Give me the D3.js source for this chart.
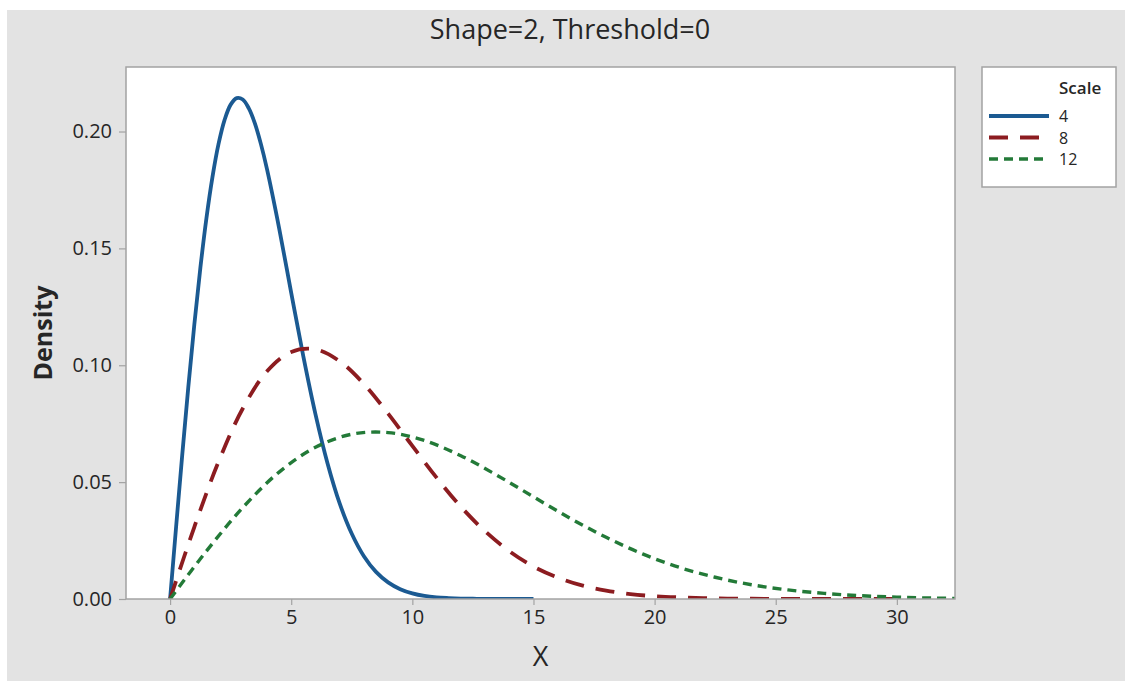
<!DOCTYPE html>
<html><head><meta charset="utf-8">
<script src="https://cdn.jsdelivr.net/npm/d3@7/dist/d3.min.js"></script>
<style>body{margin:0;background:#fff}text{font-family:"Open Sans","Noto Sans",sans-serif;fill:#262626}</style>
</head><body><svg id="c" width="1125" height="681"></svg>
<script>
const titleText = "Shape=2, Threshold=0";
const xLabel = "X";
const yLabel = "Density";
const xTicks = [0, 5, 10, 15, 20, 25, 30];
const yTicks = [0, 0.05, 0.10, 0.15, 0.20];
const legendTitle = "Scale";
const seriesNames = ["4", "8", "12"];

const x4 = [0,0.25,0.5,0.75,1,1.25,1.5,1.75,2,2.25,2.5,2.75,3,3.25,3.5,3.75,4,4.5,5,5.5,6,6.5,7,7.5,8,8.5,9,9.5,10,10.5,11,11.5,12,12.5,13,13.5,14,14.5,15];
const d4 = [0,0.0311,0.0615,0.0905,0.1174,0.1417,0.1629,0.1806,0.1947,0.2050,0.2115,0.2143,0.2137,0.2099,0.2035,0.1946,0.1839,0.1587,0.1310,0.1038,0.0791,0.0580,0.0409,0.0279,0.0183,0.0116,0.0071,0.0042,0.0024,0.0013,0.0007,0.0004,0.0002,0.0001,0,0,0,0,0];
const x8 = [0,1,2,3,4,5,6,7,8,9,10,11,12,13,14,15,16,17,18,19,20,21,22,23,24,25,26,27,28,29,30];
const d8 = [0,0.0308,0.0587,0.0815,0.0974,0.1057,0.1068,0.1017,0.0920,0.0793,0.0655,0.0519,0.0395,0.0290,0.0205,0.0139,0.0092,0.0058,0.0036,0.0021,0.0012,0.0007,0.0004,0.0002,0.0001,0,0,0,0,0,0];
const x12 = [0,1.5,3,4.5,6,7.5,9,10.5,12,13.5,15,16.5,18,19.5,21,22.5,24,25.5,27,28.5,30,31.5,33];
const d12 = [0,0.0205,0.0391,0.0543,0.0649,0.0705,0.0712,0.0678,0.0613,0.0529,0.0437,0.0346,0.0264,0.0193,0.0136,0.0093,0.0061,0.0039,0.0024,0.0014,0.0008,0.0004,0.0002];

const svg = d3.select("#c");
const L = 126, T = 67, R = 955, B = 599;

svg.append("rect").attr("x", 7).attr("y", 10).attr("width", 1118).attr("height", 671).attr("fill", "#e3e3e3");
svg.append("rect").attr("x", L).attr("y", T).attr("width", R - L).attr("height", B - T).attr("fill", "#fff");

const x = d3.scaleLinear().domain([-1.82, 32.4]).range([L, R]);
const y = d3.scaleLinear().domain([0, 0.2276]).range([B, T]);

svg.append("defs").append("clipPath").attr("id", "clip")
  .append("rect").attr("x", L).attr("y", T).attr("width", R - L).attr("height", B - T);

const series = [
  {name: seriesNames[0], xs: x4, ys: d4, color: "#1b5a92", dash: null, w: 3.8},
  {name: seriesNames[1], xs: x8, ys: d8, color: "#8c1c20", dash: "19,12", w: 3.8},
  {name: seriesNames[2], xs: x12, ys: d12, color: "#237a38", dash: "9,6", w: 3.4}
];

const line = d3.line().x(d => x(d[0])).y(d => y(d[1])).curve(d3.curveCatmullRom.alpha(0.5));
const g = svg.append("g").attr("clip-path", "url(#clip)");
series.forEach(s => {
  g.append("path").datum(s.xs.map((v, i) => [v, s.ys[i]]))
    .attr("d", line).attr("fill", "none").attr("stroke", s.color)
    .attr("stroke-width", s.w).attr("stroke-dasharray", s.dash);
});

// frame
svg.append("rect").attr("x", L).attr("y", T).attr("width", R - L).attr("height", B - T)
  .attr("fill", "none").attr("stroke", "#a3a3a3").attr("stroke-width", 1.5);

// axes
const xa = svg.append("g").attr("transform", `translate(0,${B})`)
  .call(d3.axisBottom(x).tickValues(xTicks).tickFormat(d3.format("d")).tickSize(6).tickPadding(5));
const ya = svg.append("g").attr("transform", `translate(${L},0)`)
  .call(d3.axisLeft(y).tickValues(yTicks).tickFormat(d3.format(".2f")).tickSize(7).tickPadding(7));
[xa, ya].forEach(a => {
  a.select(".domain").remove();
  a.selectAll("line").attr("stroke", "#a3a3a3").attr("stroke-width", 1.2);
  a.selectAll("text").style("font-family", '"Open Sans",sans-serif').style("font-size", "20px").attr("fill", "#262626");
});

// title and axis labels
svg.append("text").attr("x", 570).attr("y", 39).attr("text-anchor", "middle")
  .style("font-size", "27px").text(titleText);
svg.append("text").attr("x", (L + R) / 2).attr("y", 666).attr("text-anchor", "middle")
  .style("font-size", "27px").text(xLabel);
svg.append("text").attr("transform", `translate(52,${(T + B) / 2}) rotate(-90)`).attr("text-anchor", "middle")
  .style("font-size", "25px").style("font-weight", "bold").text(yLabel);

// legend
const lg = svg.append("g");
lg.append("rect").attr("x", 982).attr("y", 67).attr("width", 134).attr("height", 120)
  .attr("fill", "#fff").attr("stroke", "#a3a3a3").attr("stroke-width", 1.5);
lg.append("text").attr("x", 1059).attr("y", 94).style("font-size", "17px").style("font-weight", "600").text(legendTitle);
const rowY = [116, 137.5, 159];
series.forEach((s, i) => {
  lg.append("line").attr("x1", 989).attr("x2", 1049).attr("y1", rowY[i]).attr("y2", rowY[i])
    .attr("stroke", s.color).attr("stroke-width", s.w).attr("stroke-dasharray", s.dash);
  lg.append("text").attr("x", 1059).attr("y", rowY[i] + 6).style("font-size", "16px").text(s.name);
});
</script></body></html>
